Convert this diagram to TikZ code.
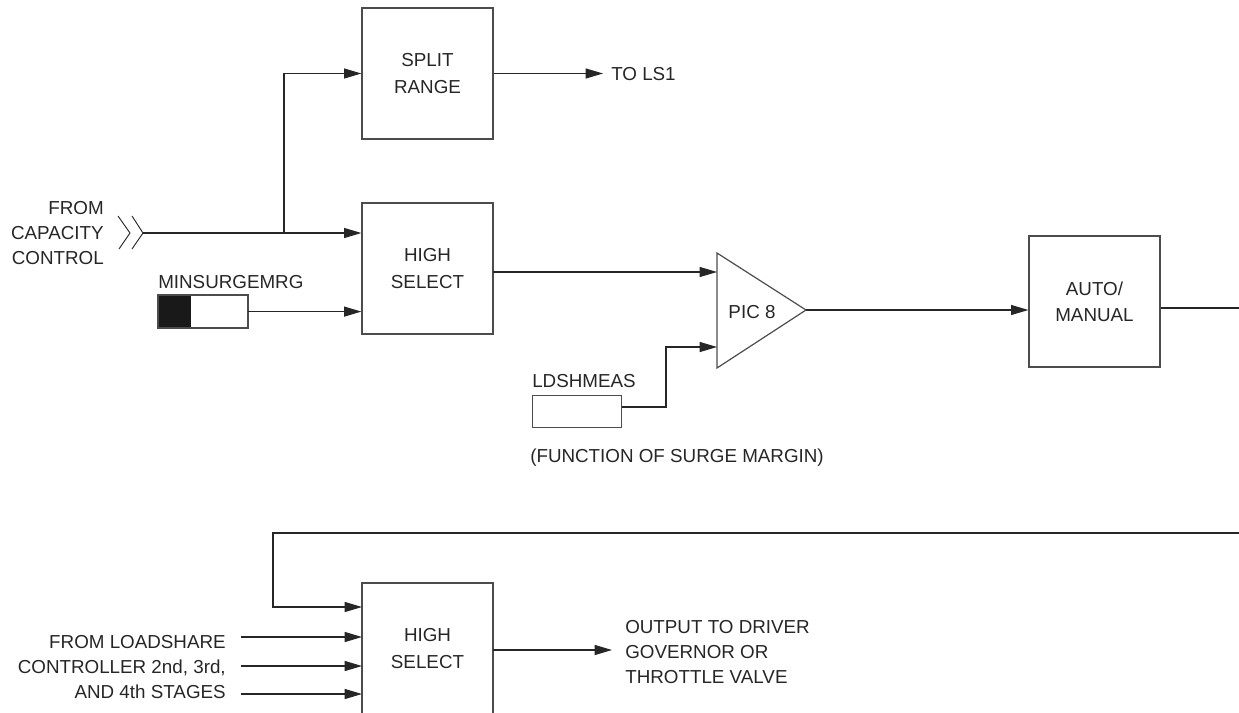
\documentclass[tikz,border=0pt]{standalone}
\usepackage{fontspec}
\setmainfont{Liberation Sans}
\usetikzlibrary{arrows.meta}
\begin{document}
\begin{tikzpicture}[x=0.75pt,y=-0.75pt,
  font=\fontsize{14.1}{18.8}\selectfont,
  blk/.style={draw=black!70,line width=0.9pt,minimum width=98.25pt,minimum height=98.25pt,inner sep=0pt,align=center,text=black!85},
  lbl/.style={inner sep=0pt,text=black!85},
  wire/.style={line width=0.9pt,black!85},
  arr/.style={wire,-{Triangle[length=13pt,width=7.5pt]}},
  smallbox/.style={draw=black!70,line width=0.9pt,minimum width=66.75pt,minimum height=24pt,inner sep=0pt}]
\useasboundingbox (0,0) rectangle (1239,713);
% blocks
\node[blk] (split) at (427.5,73.5) {SPLIT\\[1pt]RANGE};
\node[blk] (hs1) at (427.5,268.5) {HIGH\\[1pt]SELECT};
\node[blk] (am) at (1094.5,301.5) {AUTO/\\[1pt]MANUAL};
\node[blk] (hs2) at (427.5,648.5) {HIGH\\[1pt]SELECT};
% PIC triangle
\coordinate (picA) at (717,253);
\coordinate (picT) at (806,310);
\coordinate (picB) at (717,368);
\draw[draw=black!70,line width=0.9pt] (picA) -- (picT) -- (picB) -- cycle;
\node[lbl] (pic) at (752,312) {PIC 8};
% left labels
\node[lbl,anchor=east,align=right] (cap) at (104,233) {FROM\\CAPACITY\\CONTROL};
% chevrons
\draw[line width=0.7pt,black!85] (118,216) -- (130,233) -- (119,249);
\draw[line width=0.7pt,black!85] (132,216) -- (143,233) -- (132,249);
\coordinate (chev) at (143,233);
% MINSURGEMRG
\node[lbl,anchor=west] (minl) at (158,282) {MINSURGEMRG};
\node[smallbox,anchor=north west] (minb) at (158,295) {};
\fill[black!90] (minb.north west) rectangle ++(33,32);
\draw[draw=black!70,line width=0.9pt] (minb.north west) rectangle (minb.south east);
% LDSHMEAS
\node[lbl,anchor=west] (ldl) at (532,381) {LDSHMEAS};
\node[smallbox,anchor=north west] (ldb) at (532,395) {};
\node[lbl,anchor=west] (fn) at (530,458) {(FUNCTION OF SURGE MARGIN)};
% outputs
\node[lbl,anchor=west] (ls1) at (611,74) {TO LS1};
\node[lbl,anchor=west,align=left] (outl) at (625,652) {OUTPUT TO DRIVER\\GOVERNOR OR\\THROTTLE VALVE};
\node[lbl,anchor=east,align=right] (lsh) at (226,667) {FROM LOADSHARE\\CONTROLLER 2nd, 3rd,\\AND 4th STAGES};
% connectors
\coordinate (br) at (284,233);
\draw[wire] (chev) -- (br);
\draw[arr] (br) -- (hs1.west |- br);
\draw[arr] (br) |- (split.west);
\coordinate (ls1tip) at (603,73.5);
\draw[arr] (split.east) -- (ls1tip);
\draw[arr] (minb.east) -- (hs1.west |- minb.east);
\coordinate (hs1o) at (493,272);
\draw[arr] (hs1o) -- (717,272);
\coordinate (ldturn) at (666,407);
\draw[arr] (ldb.east |- ldturn) -- (ldturn) |- (717,347);
\draw[arr] (picT) -- (am.west |- picT);
\coordinate (amo) at (1239,308);
\draw[wire] (am.east |- amo) -- (amo);
\coordinate (fbR) at (1239,533);
\coordinate (fbL) at (273,533);
\draw[arr] (fbR) -- (fbL) |- (362,607);
\foreach \yy in {637,666,694} {
  \draw[arr] (241,\yy) -- (362,\yy);
}
\coordinate (hs2o) at (493,650);
\draw[arr] (hs2o) -- (612,650);
\end{tikzpicture}
\end{document}
